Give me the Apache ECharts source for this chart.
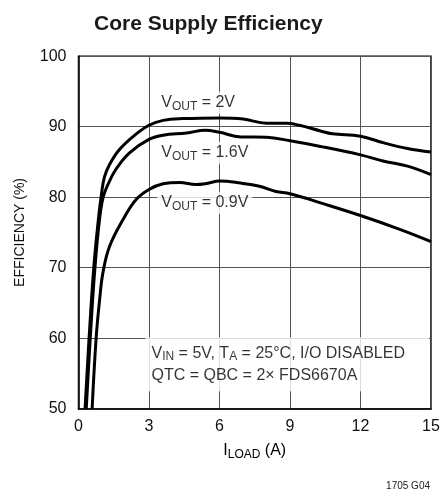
<!DOCTYPE html>
<html><head><meta charset="utf-8">
<script src="https://cdn.jsdelivr.net/npm/echarts@6/dist/echarts.min.js"></script>
<style>html,body{margin:0;padding:0;background:#fff}#c{width:447px;height:496px}</style>
</head><body><div id="c"></div>
<script>
const FONT = '"Liberation Sans", Arial, sans-serif';
const xTicks = [0, 3, 6, 9, 12, 15];
const yTicks = [50, 60, 70, 80, 90, 100];
const vout2V = [[0.28,50],[0.45,60],[0.65,70],[0.85,77],[0.98,80.5],[1.1,82.8],[1.3,84.5],[1.7,86.6],[2.32,88.6],[3.0,90.2],[3.6,90.9],[4.45,91.15],[6,91.25],[7,91.1],[8,90.5],[8.85,90.5],[9.4,90.2],[10.3,89.4],[10.8,89.0],[12,88.65],[13,87.7],[14,86.9],[15,86.4]];
const vout16V = [[0.33,50],[0.5,60],[0.7,70],[0.9,77],[1.05,80],[1.25,81.8],[1.6,84.0],[2.17,86.3],[3.0,88.2],[3.6,88.8],[4.6,89.1],[5.4,89.5],[6,89.2],[6.9,88.55],[8,88.5],[9,88.0],[10.3,87.2],[12,86.0],[13,85.1],[14,84.4],[15,83.2]];
const vout09V = [[0.58,50],[0.75,60],[0.9,65.5],[1.04,69.3],[1.32,73.0],[1.89,76.8],[2.46,79.7],[3.0,81.1],[3.6,81.9],[4.3,82.1],[5.0,81.8],[5.45,81.95],[6.0,82.3],[6.9,82.0],[7.7,81.55],[8.4,80.8],[9.0,80.5],[10.3,79.2],[12,77.4],[13.7,75.4],[15,73.7]];
const curveLabels = [
  {coord:[3.35,93.4], main:'V', sub:'OUT', rest:' = 2V'},
  {coord:[3.35,86.3], main:'V', sub:'OUT', rest:' = 1.6V'},
  {coord:[3.35,79.2], main:'V', sub:'OUT', rest:' = 0.9V'}
];
const noteAnchor = [2.85, 56.3];
const noteLine1 = ['V','IN',' = 5V, T','A',' = 25°C, I/O DISABLED'];
const noteLine2 = 'QTC = QBC = 2× FDS6670A';

const rich = {
  m: {fontSize:16, fontFamily:FONT, color:'#000', lineHeight:22},
  s: {fontSize:12, fontFamily:FONT, color:'#000', lineHeight:22, padding:[7,0,0,0]}
};

const chart = echarts.init(document.getElementById('c'), null, {renderer:'canvas'});
function lineSeries(name, data){
  return {name, type:'line', data, smooth:0.4, showSymbol:false, symbol:'none',
    lineStyle:{color:'#000', width:3}, z:5, silent:true, animation:false};
}
chart.setOption({
  animation:false,
  title:{text:'Core Supply Efficiency', left:89, top:9,
    textStyle:{fontFamily:FONT, fontSize:21, fontWeight:'bold', color:'#1a1a1a'}},
  grid:{left:78.5, right:16, top:56.2, bottom:87.3, show:true, borderColor:'#000', borderWidth:1.5, backgroundColor:'transparent'},
  xAxis:{type:'value', min:xTicks[0], max:xTicks[xTicks.length-1], interval:3,
    name:'{m|I}{s|LOAD}{m| (A)}', nameLocation:'middle', nameGap:31,
    nameTextStyle:{rich},
    axisLine:{lineStyle:{color:'#000', width:1.5}}, axisTick:{show:false},
    axisLabel:{fontFamily:FONT, fontSize:16, color:'#111', margin:10},
    splitLine:{lineStyle:{color:'#555', width:1}}},
  yAxis:{type:'value', min:yTicks[0], max:yTicks[yTicks.length-1], interval:10,
    name:'EFFICIENCY (%)', nameLocation:'middle', nameGap:51, nameRotate:90,
    nameTextStyle:{fontFamily:FONT, fontSize:14, color:'#111'},
    axisLine:{lineStyle:{color:'#000', width:1.5}}, axisTick:{show:false},
    axisLabel:{fontFamily:FONT, fontSize:16, color:'#111', margin:12},
    splitLine:{lineStyle:{color:'#555', width:1}}},
  series:[
    {type:'scatter', symbolSize:0, z:2, silent:true,
      data: curveLabels.map(l => ({value:l.coord,
        label:{show:true, position:'right', distance:0,
          formatter:'{m|'+l.main+'}{s|'+l.sub+'}{m|'+l.rest+'}',
          backgroundColor:'#fff', padding:[0,4,0,4], rich}}))},
    {type:'scatter', symbolSize:0, z:2, silent:true,
      data:[{value:noteAnchor, label:{show:true, position:'right', distance:0,
        formatter:'{m|'+noteLine1[0]+'}{s|'+noteLine1[1]+'}{m|'+noteLine1[2]+'}{s|'+noteLine1[3]+'}{m|'+noteLine1[4]+'}\n{m|'+noteLine2+'}',
        backgroundColor:'#fff', padding:[5,24,5,6], rich}}]},
    lineSeries('VOUT = 2V', vout2V),
    lineSeries('VOUT = 1.6V', vout16V),
    lineSeries('VOUT = 0.9V', vout09V)
  ],
  graphic:[{type:'text', right:17, top:481, style:{text:'1705 G04', fontFamily:FONT, fontSize:10, fill:'#222'}}]
});
</script></body></html>
